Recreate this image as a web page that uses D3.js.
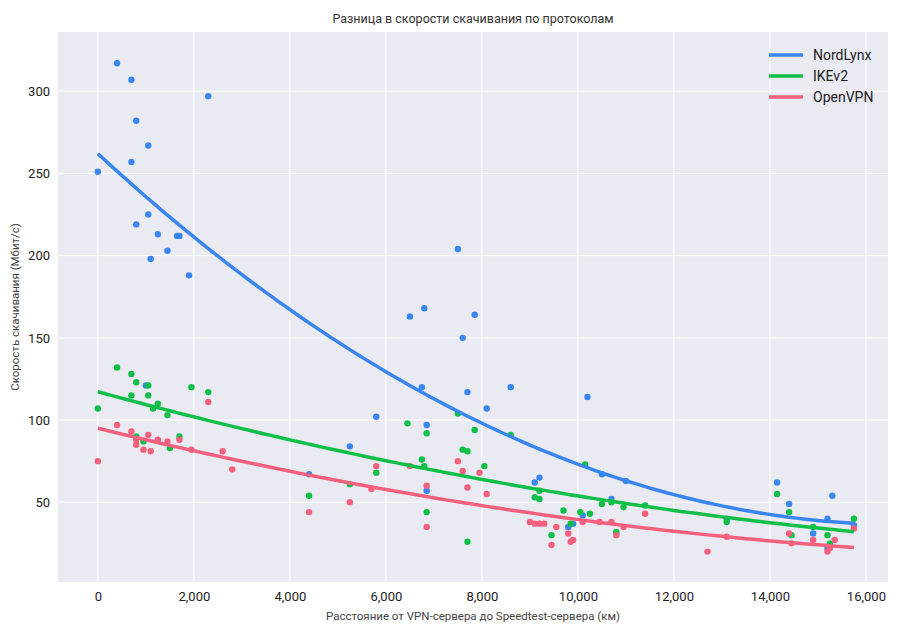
<!DOCTYPE html>
<html><head><meta charset="utf-8">
<script src="https://cdn.jsdelivr.net/npm/d3@7"></script>
<style>body{margin:0;background:#fff;font-family:Roboto,"DejaVu Sans",sans-serif}</style>
</head><body><svg id="c" width="901" height="632"></svg>
<script>
const seriesNames = ["NordLynx","IKEv2","OpenVPN"];
const colors = ["#3a86f0","#0fbf48","#f5617c"];
const xTicks = [0,2000,4000,6000,8000,10000,12000,14000,16000];
const yTicks = [50,100,150,200,250,300];
const nordX = [0,400,700,800,700,1050,800,1050,1250,1100,1450,1650,1700,1900,2300,1000,4400,5250,5800,6500,6800,6750,6850,6850,7500,7600,7700,7850,8100,8600,9100,9200,9800,9900,10100,10200,10500,10700,10800,11000,13100,14150,14400,14900,15200,15300,15750,15200];
const nordY = [251,317,307,282,257,267,219,225,213,198,203,212,212,188,297,121,67,84,102,163,168,120,97,57,204,150,117,164,107,120,62,65,35,37,42,114,67,52,31,63,40,62,49,31,40,54,36,22];
const ikeX = [0,400,700,800,700,1050,1050,1250,1150,1450,1700,1950,2300,800,950,1500,4400,5250,5800,6450,6750,6850,6800,6850,7500,7600,7700,7850,8050,8600,9100,9200,9200,9450,9700,9850,10050,10150,10250,10500,10700,10800,10950,11400,13100,14150,14400,14450,14900,15200,15250,15750,7700];
const ikeY = [107,132,128,123,115,121,115,110,107,103,90,120,117,90,87,83,54,61,68,98,76,92,72,44,104,82,81,94,72,91,53,57,52,30,45,37,44,73,43,49,50,32,47,48,38,55,44,30,35,30,25,40,26];
const vpnX = [0,400,700,800,800,1050,950,1100,1250,1450,1700,1950,2300,2600,2800,4400,5250,5700,5800,6500,6850,6850,7500,7600,7700,7950,8100,9000,9100,9200,9300,9450,9550,9800,9850,9900,10100,10450,10700,10800,10950,11400,12700,13100,14400,14450,14900,15200,15250,15350,15750];
const vpnY = [75,97,93,88,85,91,82,81,88,87,88,82,111,81,70,44,50,58,72,72,60,35,75,69,59,68,55,38,37,37,37,24,35,31,26,27,38,38,38,30,35,43,20,29,31,25,27,20,22,27,34];

const data = [[nordX,nordY],[ikeX,ikeY],[vpnX,vpnY]];
const svg = d3.select("#c");
const L=58,R=888,T=32,B=582;
const x = d3.scaleLinear().domain([-830,16460]).range([L,R]);
const y = d3.scaleLinear().domain([1.5,336]).range([B,T]);
svg.append("rect").attr("x",L).attr("y",T).attr("width",R-L).attr("height",B-T).attr("fill","#eaeaf2");
const g = svg.append("g");
xTicks.forEach(t=>g.append("line").attr("x1",x(t)).attr("x2",x(t)).attr("y1",T).attr("y2",B).attr("stroke","#fff").attr("stroke-width",1));
yTicks.forEach(t=>g.append("line").attr("x1",L).attr("x2",R).attr("y1",y(t)).attr("y2",y(t)).attr("stroke","#fff").attr("stroke-width",1));
const xa = svg.append("g").attr("transform",`translate(0,${B})`).call(d3.axisBottom(x).tickValues(xTicks).tickSize(0).tickPadding(10));
const ya = svg.append("g").attr("transform",`translate(${L},0)`).call(d3.axisLeft(y).tickValues(yTicks).tickSize(0).tickPadding(8));
[xa,ya].forEach(a=>{a.select(".domain").remove();a.selectAll("text").attr("font-size",13).attr("fill","#222").attr("font-family","Roboto,sans-serif");});
// points
data.forEach((d,i)=>{
  svg.append("g").selectAll("circle").data(d[0].map((v,k)=>[v,d[1][k]])).join("circle")
   .attr("cx",p=>x(p[0])).attr("cy",p=>y(p[1])).attr("r",3.2).attr("fill",colors[i]);
});
// quadratic fit
function fit(X,Y){
  const n=X.length; const s=[0,0,0,0,0], t=[0,0,0];
  const sc=10000;
  for(let k=0;k<n;k++){const u=X[k]/sc;for(let p=0;p<5;p++)s[p]+=Math.pow(u,p);for(let p=0;p<3;p++)t[p]+=Y[k]*Math.pow(u,p);}
  const A=[[s[0],s[1],s[2],t[0]],[s[1],s[2],s[3],t[1]],[s[2],s[3],s[4],t[2]]];
  for(let i=0;i<3;i++){for(let j=i+1;j<3;j++){const f=A[j][i]/A[i][i];for(let k=i;k<4;k++)A[j][k]-=f*A[i][k];}}
  const c=[0,0,0];
  for(let i=2;i>=0;i--){let v=A[i][3];for(let k=i+1;k<3;k++)v-=A[i][k]*c[k];c[i]=v/A[i][i];}
  return v=>{const u=v/sc;return c[0]+c[1]*u+c[2]*u*u;};
}
data.forEach((d,i)=>{
  const f=fit(d[0],d[1]);
  const xs=d3.range(0,15751,150);
  svg.append("path").datum(xs).attr("fill","none").attr("stroke",colors[i]).attr("stroke-width",3.5)
   .attr("d",d3.line().x(v=>x(v)).y(v=>y(f(v))));
});
// legend
seriesNames.forEach((n,i)=>{
  const yy=55+i*21;
  svg.append("line").attr("x1",769).attr("x2",803).attr("y1",yy).attr("y2",yy).attr("stroke",colors[i]).attr("stroke-width",3.5);
  svg.append("text").attr("x",813).attr("y",yy+5).attr("font-size",14).attr("fill","#222").text(n);
});
svg.append("text").attr("x",473).attr("y",23).attr("text-anchor","middle").attr("font-size",12.5).attr("fill","#333").text("Разница в скорости скачивания по протоколам");
svg.append("text").attr("x",473).attr("y",620).attr("text-anchor","middle").attr("font-size",11.5).attr("fill","#444").text("Расстояние от VPN-сервера до Speedtest-сервера (км)");
svg.append("text").attr("transform","translate(19,307) rotate(-90)").attr("text-anchor","middle").attr("font-size",11.5).attr("fill","#444").text("Скорость скачивания (Мбит/с)");
</script></body></html>
